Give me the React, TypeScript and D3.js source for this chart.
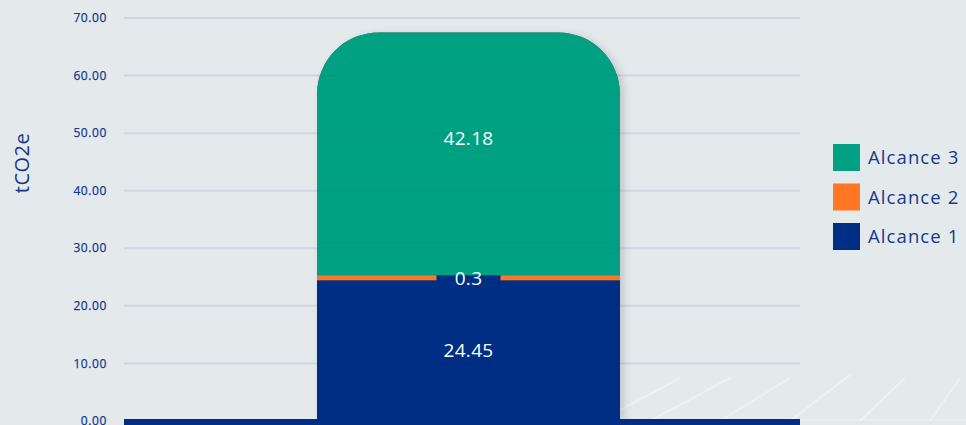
import React from "react";
import * as d3 from "d3";

const seriesNames = ["Alcance 1", "Alcance 2", "Alcance 3"];
const seriesValues = [24.45, 0.3, 42.18];
const seriesColors = ["#002e85", "#ff7722", "#00a082"];
const yTicks = [0, 10, 20, 30, 40, 50, 60, 70];
const yLabel = "tCO2e";

const W = 966;
const H = 425;
const FONT = "'Open Sans', Lato, sans-serif";
const TEXT = "#15398c";

export default function App() {
  const y = d3.scaleLinear().domain([0, 70]).range([421, 18]);
  const bx = 317;
  const bw = 303;
  const minH = 5;

  let cur = y(0);
  const segs = seriesValues.map((v, i) => {
    const h = Math.max(y(0) - y(v), minH);
    const top = cur - h;
    const seg = { top, bottom: cur, h, v, i };
    cur = top;
    return seg;
  });
  const total = d3.sum(seriesValues);
  const r = 62;
  const last = segs[segs.length - 1];
  const topPath = (s: any) => {
    const x0 = bx, x1 = bx + bw, t = s.top, b = s.bottom;
    return `M${x0},${b} L${x0},${t + r} A${r},${r} 0 0 1 ${x0 + r},${t} L${x1 - r},${t} A${r},${r} 0 0 1 ${x1},${t + r} L${x1},${b} Z`;
  };
  const outline = `M${bx},${y(0)} L${bx},${last.top + r} A${r},${r} 0 0 1 ${bx + r},${last.top} L${bx + bw - r},${last.top} A${r},${r} 0 0 1 ${bx + bw},${last.top + r} L${bx + bw},${y(0)} Z`;

  const diag = [
    [600, 421, 680, 378], [650, 421, 730, 378], [720, 421, 790, 378], [790, 421, 850, 375],
    [860, 421, 905, 378], [930, 421, 960, 378],
  ];

  return (
    <svg width={W} height={H} style={{ position: "absolute", left: 0, top: 0, background: "#e4e9ec" }}>
      <defs>
        <filter id="sh" x="-20%" y="-20%" width="140%" height="140%">
          <feDropShadow dx="4" dy="2" stdDeviation="4" floodColor="#000" floodOpacity="0.25" />
        </filter>
      </defs>
      <rect x={0} y={0} width={W} height={H} fill="#e4e9ec" />
      {diag.map((d, i) => (
        <line key={i} x1={d[0]} y1={d[1]} x2={d[2]} y2={d[3]} stroke="#f3f5f7" strokeWidth={2} opacity={0.7} />
      ))}
      <line x1={800} x2={966} y1={420} y2={420} stroke="#f3f5f7" strokeWidth={1} opacity={0.7} />
      {yTicks.map((t) => (
        <g key={t}>
          {t > 0 && (
            <line x1={124} x2={800} y1={y(t)} y2={y(t)} stroke="#d0d7e2" strokeWidth={2} />
          )}
          <text x={107} y={y(t)} dy="0.35em" textAnchor="end" fontFamily={FONT} fontSize={12} letterSpacing={0.6} fill={TEXT} stroke={TEXT} strokeWidth={0.25}>
            {t.toFixed(2)}
          </text>
        </g>
      ))}
      <text transform={`translate(29,163) rotate(-90)`} textAnchor="middle" fontFamily={FONT} fontSize={20} letterSpacing={0.5} fill={TEXT}>
        {yLabel}
      </text>
      <path d={outline} fill="#000" filter="url(#sh)" opacity={0.6} />
      {segs.map((s) =>
        s.i === segs.length - 1 ? (
          <path key={s.i} d={topPath(s)} fill={seriesColors[s.i]} />
        ) : (
          <rect key={s.i} x={bx} y={s.top} width={bw} height={s.h} fill={seriesColors[s.i]} />
        )
      )}
      {yTicks.filter((t) => t > 0 && t < total).map((t) => (
        <line key={"o" + t} x1={bx} x2={bx + bw} y1={y(t)} y2={y(t)} stroke="#000" strokeOpacity={0.035} strokeWidth={2} />
      ))}
      <rect x={124} y={419} width={676} height={6} fill="#002e85" />
      {segs.map((s) => {
        const small = s.h < 20;
        const isTop = s.i === segs.length - 1;
        const cy = small ? s.top + 3 : (s.top + s.bottom) / 2 - (isTop ? 15 : 0);
        const cx = bx + bw / 2;
        return (
          <g key={"l" + s.i}>
            {small && <rect x={cx - 32} y={s.top} width={64} height={s.h + 1} fill="#002e85" />}
            <text x={cx} y={cy} dy="0.35em" textAnchor="middle" fontFamily={FONT} fontSize={19} letterSpacing={0.3} fill="#ffffff">
              {String(s.v)}
            </text>
          </g>
        );
      })}
      {[2, 1, 0].map((i, k) => (
        <g key={"lg" + i} transform={`translate(833,${144 + k * 39.5})`}>
          <rect width={27} height={27} fill={seriesColors[i]} />
          <text x={35} y={14} dy="0.35em" fontFamily={FONT} fontSize={18.5} letterSpacing={1.1} fill={TEXT}>
            {seriesNames[i]}
          </text>
        </g>
      ))}
    </svg>
  );
}
